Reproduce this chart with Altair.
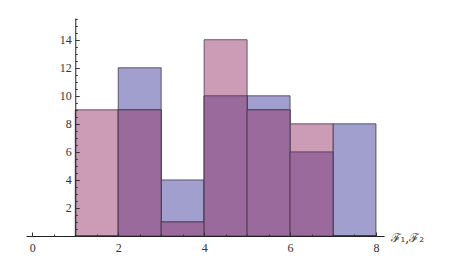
import altair as alt
import pandas as pd

# ---- data ----
bin_start = [1, 2, 3, 4, 5, 6, 7]
bin_end = [2, 3, 4, 5, 6, 7, 8]
f1_counts = [9, 9, 1, 14, 9, 8, 0]     # pink series
f2_counts = [0, 12, 4, 10, 10, 6, 8]   # blue series
x_labels = [0, 2, 4, 6, 8]
y_labels = [2, 4, 6, 8, 10, 12, 14]

df = pd.DataFrame({
    "start": bin_start,
    "end": bin_end,
    "f1": f1_counts,
    "f2": f2_counts,
})
df["both"] = df[["f1", "f2"]].min(axis=1)

# ---- layout ----
XMIN, XMAX = -0.147, 8.187
YMIN, YMAX = 0, 15.55
W, H = 358, 218
y_axis_px = (1 - XMIN) / (XMAX - XMIN) * W

xs = alt.Scale(domain=[XMIN, XMAX], nice=False, zero=False)
ys = alt.Scale(domain=[YMIN, YMAX], nice=False, zero=False)

PINK = "#CC9CB6"
BLUE = "#A09FCE"
PURPLE = "#9A6A9C"
EDGE = "#3c3040"
TXT = "#333333"
FONT = "Liberation Serif"

x_axis_main = alt.Axis(
    values=x_labels, ticks=False, grid=False, domainColor="#222222",
    labelFont=FONT, labelFontSize=12, labelColor=TXT, labelPadding=6,
    labelOverlap=False,
    title="ℱ₁,ℱ₂", titleFont="DejaVu Serif", titleFontSize=12,
    titleFontWeight="normal", titleColor=TXT, titleAlign="left",
    titleBaseline="middle", titleX=W + 6, titleY=1, titleAngle=0, zindex=1,
)
y_axis_main = alt.Axis(
    values=y_labels, ticks=False, grid=False, domainColor="#222222",
    labelFont=FONT, labelFontSize=12, labelColor=TXT, labelPadding=4,
    labelOverlap=False,
    title=None, offset=-y_axis_px, zindex=1,
)

base = alt.Chart(df)

blue = base.mark_rect(color=BLUE, stroke=EDGE, strokeWidth=1, strokeOpacity=0.75).encode(
    x=alt.X("start:Q", scale=xs, axis=x_axis_main),
    x2="end:Q",
    y=alt.Y("f2:Q", scale=ys, axis=y_axis_main),
    y2=alt.datum(0),
)
pink = base.mark_rect(color=PINK, stroke=EDGE, strokeWidth=1, strokeOpacity=0.75).encode(
    x=alt.X("start:Q", scale=xs, axis=None),
    x2="end:Q",
    y=alt.Y("f1:Q", scale=ys, axis=None),
    y2=alt.datum(0),
)
both = base.mark_rect(color=PURPLE, stroke=EDGE, strokeWidth=1, strokeOpacity=0.75).encode(
    x=alt.X("start:Q", scale=xs, axis=None),
    x2="end:Q",
    y=alt.Y("both:Q", scale=ys, axis=None),
    y2=alt.datum(0),
)

x_ticks = [i * 0.5 for i in range(0, 17)]
y_ticks = [i * 0.5 for i in range(0, 32)]

ticks_layer = base.mark_rect(opacity=0).encode(
    x=alt.X("start:Q", scale=xs, axis=alt.Axis(
        orient="top", values=x_ticks, labels=False, domain=False, grid=False,
        tickColor="#333333", tickWidth=1,
        tickSize={"condition": {"test": "datum.value % 2 === 0", "value": 4}, "value": 2},
        offset=-H, title=None, zindex=1)),
    x2="end:Q",
    y=alt.Y("f1:Q", scale=ys, axis=alt.Axis(
        orient="right", values=y_ticks, labels=False, domain=False, grid=False,
        tickColor="#333333", tickWidth=1,
        tickSize={"condition": {"test": "datum.value % 2 === 0", "value": 4}, "value": 2},
        offset=-(W - y_axis_px), title=None, zindex=1)),
    y2=alt.datum(0),
)

chart = alt.layer(blue, pink, both, ticks_layer).resolve_axis(
    x="independent", y="independent"
).properties(
    width=W, height=H,
    background="white",
    autosize=alt.AutoSizeParams(type="none"),
    padding={"left": 18, "top": 10, "right": 80, "bottom": 33},
).configure_view(strokeWidth=0, stroke="transparent")

chart.save("out.html", embed_options={"renderer": "svg", "actions": False})
